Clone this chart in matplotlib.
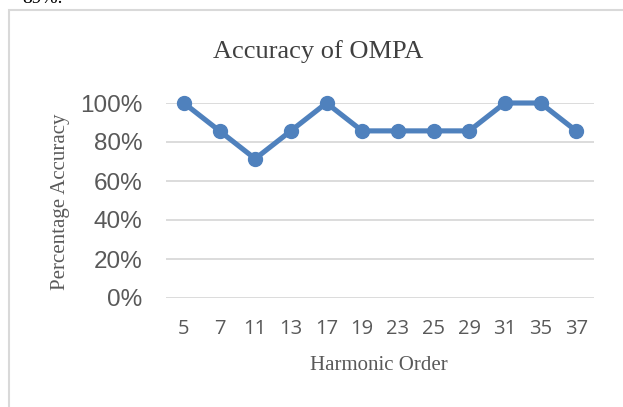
import matplotlib.pyplot as plt
from matplotlib.patches import Rectangle
from matplotlib.ticker import PercentFormatter

# harmonic orders and accuracy of OMPA (fraction)
orders = ["5", "7", "11", "13", "17", "19", "23", "25", "29", "31", "35", "37"]
accuracy = [1.0, 0.857, 0.714, 0.857, 1.0, 0.857, 0.857, 0.857, 0.857, 1.0, 1.0, 0.857]
y_ticks = [0.0, 0.2, 0.4, 0.6, 0.8, 1.0]

W, H = 623, 407
fig = plt.figure(figsize=(W / 100, H / 100), dpi=100)

# chart frame (only left/top edges visible in the crop)
fig.patches.append(Rectangle((8.5 / W, -0.05), 1.1, (H - 9.5) / H + 0.05,
                             transform=fig.transFigure, fill=False,
                             edgecolor="#d9d9d9", linewidth=1.5))
# text of the page above the chart, cut off
fig.text(22 / W, 1.0 + 10 / H, "89%.", family="Liberation Serif", fontsize=14,
         va="top", ha="left", color="black")

ax = fig.add_axes([166 / W, (H - 298) / H, (594 - 166) / W, 195 / H])
x = list(range(len(orders)))
ax.plot(x, accuracy, color="#4f81bd", linewidth=3.7, marker="o",
        markersize=10, solid_capstyle="round", zorder=3, clip_on=False)

ax.set_xlim(-0.5, len(orders) - 0.5)
ax.set_ylim(0, 1.0)
ax.set_yticks(y_ticks)
ax.yaxis.set_major_formatter(PercentFormatter(1.0, decimals=0))
ax.set_xticks(x)
ax.set_xticklabels(orders)
ax.grid(axis="y", color="#d9d9d9", linewidth=1.3)
ax.set_axisbelow(True)
for s in ax.spines.values():
    s.set_visible(False)
ax.tick_params(axis="both", length=0)
ax.tick_params(axis="y", pad=17, labelsize=17.5, labelcolor="#595959")
ax.tick_params(axis="x", pad=15, labelsize=14.5, labelcolor="#595959")
for lbl in ax.get_yticklabels():
    lbl.set_family("Liberation Sans")
for lbl in ax.get_xticklabels():
    lbl.set_family("Open Sans")

fig.text(318 / W, 1 - 52 / H, "Accuracy of OMPA", family="Liberation Serif",
         fontsize=19, ha="center", va="center", color="#404040")
fig.text(379 / W, 1 - 366 / H, "Harmonic Order", family="Liberation Serif",
         fontsize=15, ha="center", va="center", color="#595959")
fig.text(61 / W, 1 - 202 / H, "Percentage Accuracy", family="Liberation Serif",
         fontsize=15, ha="center", va="center", rotation=90, color="#595959")

fig.savefig("out.png", dpi=100)
